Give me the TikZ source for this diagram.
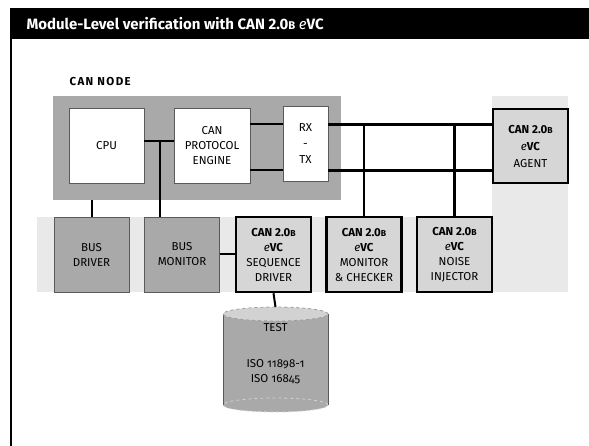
\documentclass[tikz,border=0pt]{standalone}
\usepackage{fontspec}
\setmainfont{Fira Sans}
\usepackage{graphicx}
\usepackage{tikz}
\usetikzlibrary{calc}

\definecolor{midgray}{HTML}{A9A9A9}
\definecolor{evcgray}{HTML}{D6D6D6}
\definecolor{bandgray}{HTML}{E9E9E9}
\definecolor{boxedge}{HTML}{5A5A5A}
\definecolor{toplight}{HTML}{D2D2D2}
\newcommand{\capB}{\scalebox{.75}{B}}
\newcommand{\evc}{{\itshape e}\textbf{VC}}

\tikzset{
    box/.style={draw=boxedge, line width=.8pt, minimum width=75, minimum height=75,
        inner sep=0, align=center, font=\fontsize{11.5}{15}\selectfont},
    plainbox/.style={box, fill=white},
    graybox/.style={box, fill=midgray},
    evcbox/.style={box, fill=evcgray, draw=black, line width=2.5pt},
    wire/.style={line width=2pt},
    bus/.style={line width=3pt}
}

\begin{document}
\begin{tikzpicture}[x=1pt, y=-1pt]
    \useasboundingbox (0,0) rectangle (589,446);
    \fill[black] (10,8) rectangle (589,39);
    \draw[line width=1.5pt] (10.75,39) -- (10.75,446);
    \node[anchor=west, text=white, font=\fontsize{15}{16}\selectfont\bfseries] (title) at (23,23.5)
        {Module-Level verification with CAN 2.0\capB{} {\mdseries\itshape e}VC};

    \fill[bandgray] (37,217) rectangle (492,292);
    \fill[bandgray] (492,96) rectangle (568,292);
    \node[fill=midgray, minimum width=288, minimum height=104, inner sep=0] (can) at (197,148) {};
    \node[anchor=west, font=\fontsize{11.5}{12}\selectfont\bfseries\addfontfeatures{LetterSpace=12}] (canlbl) at (66,82) {CAN NODE};

    \node[plainbox] (cpu) at (106.5,145.5) {CPU};
    \node[plainbox, minimum width=76] (pe) at (212,145.5) {CAN\\PROTOCOL\\ENGINE};
    \node[plainbox, minimum width=45, font=\fontsize{11.5}{16}\selectfont] (rxtx) at (305.5,143.5) {RX\\-\\TX};
    \node[evcbox, minimum height=74, font=\fontsize{11.5}{17}\selectfont] (agent) at (530.5,146)
        {\textbf{CAN 2.0\capB}\\\evc\\AGENT};

    \foreach \nm/\xc/\txt in {drv/91.5/{BUS\\DRIVER}, mon/182/{BUS\\MONITOR}}
        \node[graybox] (\nm) at (\xc,254.5) {\txt};
    \foreach \nm/\xc/\txt in {seq/273.5/{SEQUENCE\\DRIVER}, chk/364/{MONITOR\\\& CHECKER}, inj/454.5/{NOISE\\INJECTOR}}
        \node[evcbox] (\nm) at (\xc,254.5) {\textbf{CAN 2.0\capB}\\\evc\\\txt};

    % test database
    \fill[midgray] (223,314) -- (223,405) arc[start angle=180, end angle=360, x radius=52.5pt, y radius=7pt] -- (328,314) -- cycle;
    \draw[toplight, line width=.8pt, dashed] (275.5,405) ellipse[x radius=52.5pt, y radius=7pt];
    \draw[boxedge, line width=.8pt] (223,314) -- (223,405) (328,314) -- (328,405);
    \filldraw[fill=toplight, draw=boxedge!60, line width=.8pt, dashed] (275.5,314) ellipse[x radius=52.5pt, y radius=7pt];
    \coordinate (testtop) at (275.5,307);
    \node[align=center, font=\fontsize{11.5}{15}\selectfont\addfontfeatures{Numbers=OldStyle}] (test) at (275.5,353.5)
        {TEST\\[21pt]ISO 11898-1\\ISO 16845};

    \coordinate (busH) at (0,124.5);
    \coordinate (busL) at (0,170.5);
    \coordinate (jn) at (160,141);
    \draw[wire] (cpu.east |- jn) -- (pe.west |- jn);
    \draw[wire] (jn) -- (jn |- mon.north);
    \draw[wire] (drv.north |- can.south) -- (drv.north);
    \draw[wire] (pe.east |- busH) -- (rxtx.west |- busH);
    \draw[wire] (pe.east |- busL) -- (rxtx.west |- busL);
    \draw[bus] (rxtx.east |- busH) -- (agent.west |- busH);
    \draw[bus] (rxtx.east |- busL) -- (agent.west |- busL);
    \draw[wire] (chk.north |- busH) -- (chk.north);
    \draw[bus] (inj.north |- busH) -- (inj.north);
    \draw[wire] (mon.east) -- (seq.west);
    \draw[wire] (seq.south) -- (testtop);
\end{tikzpicture}
\end{document}
